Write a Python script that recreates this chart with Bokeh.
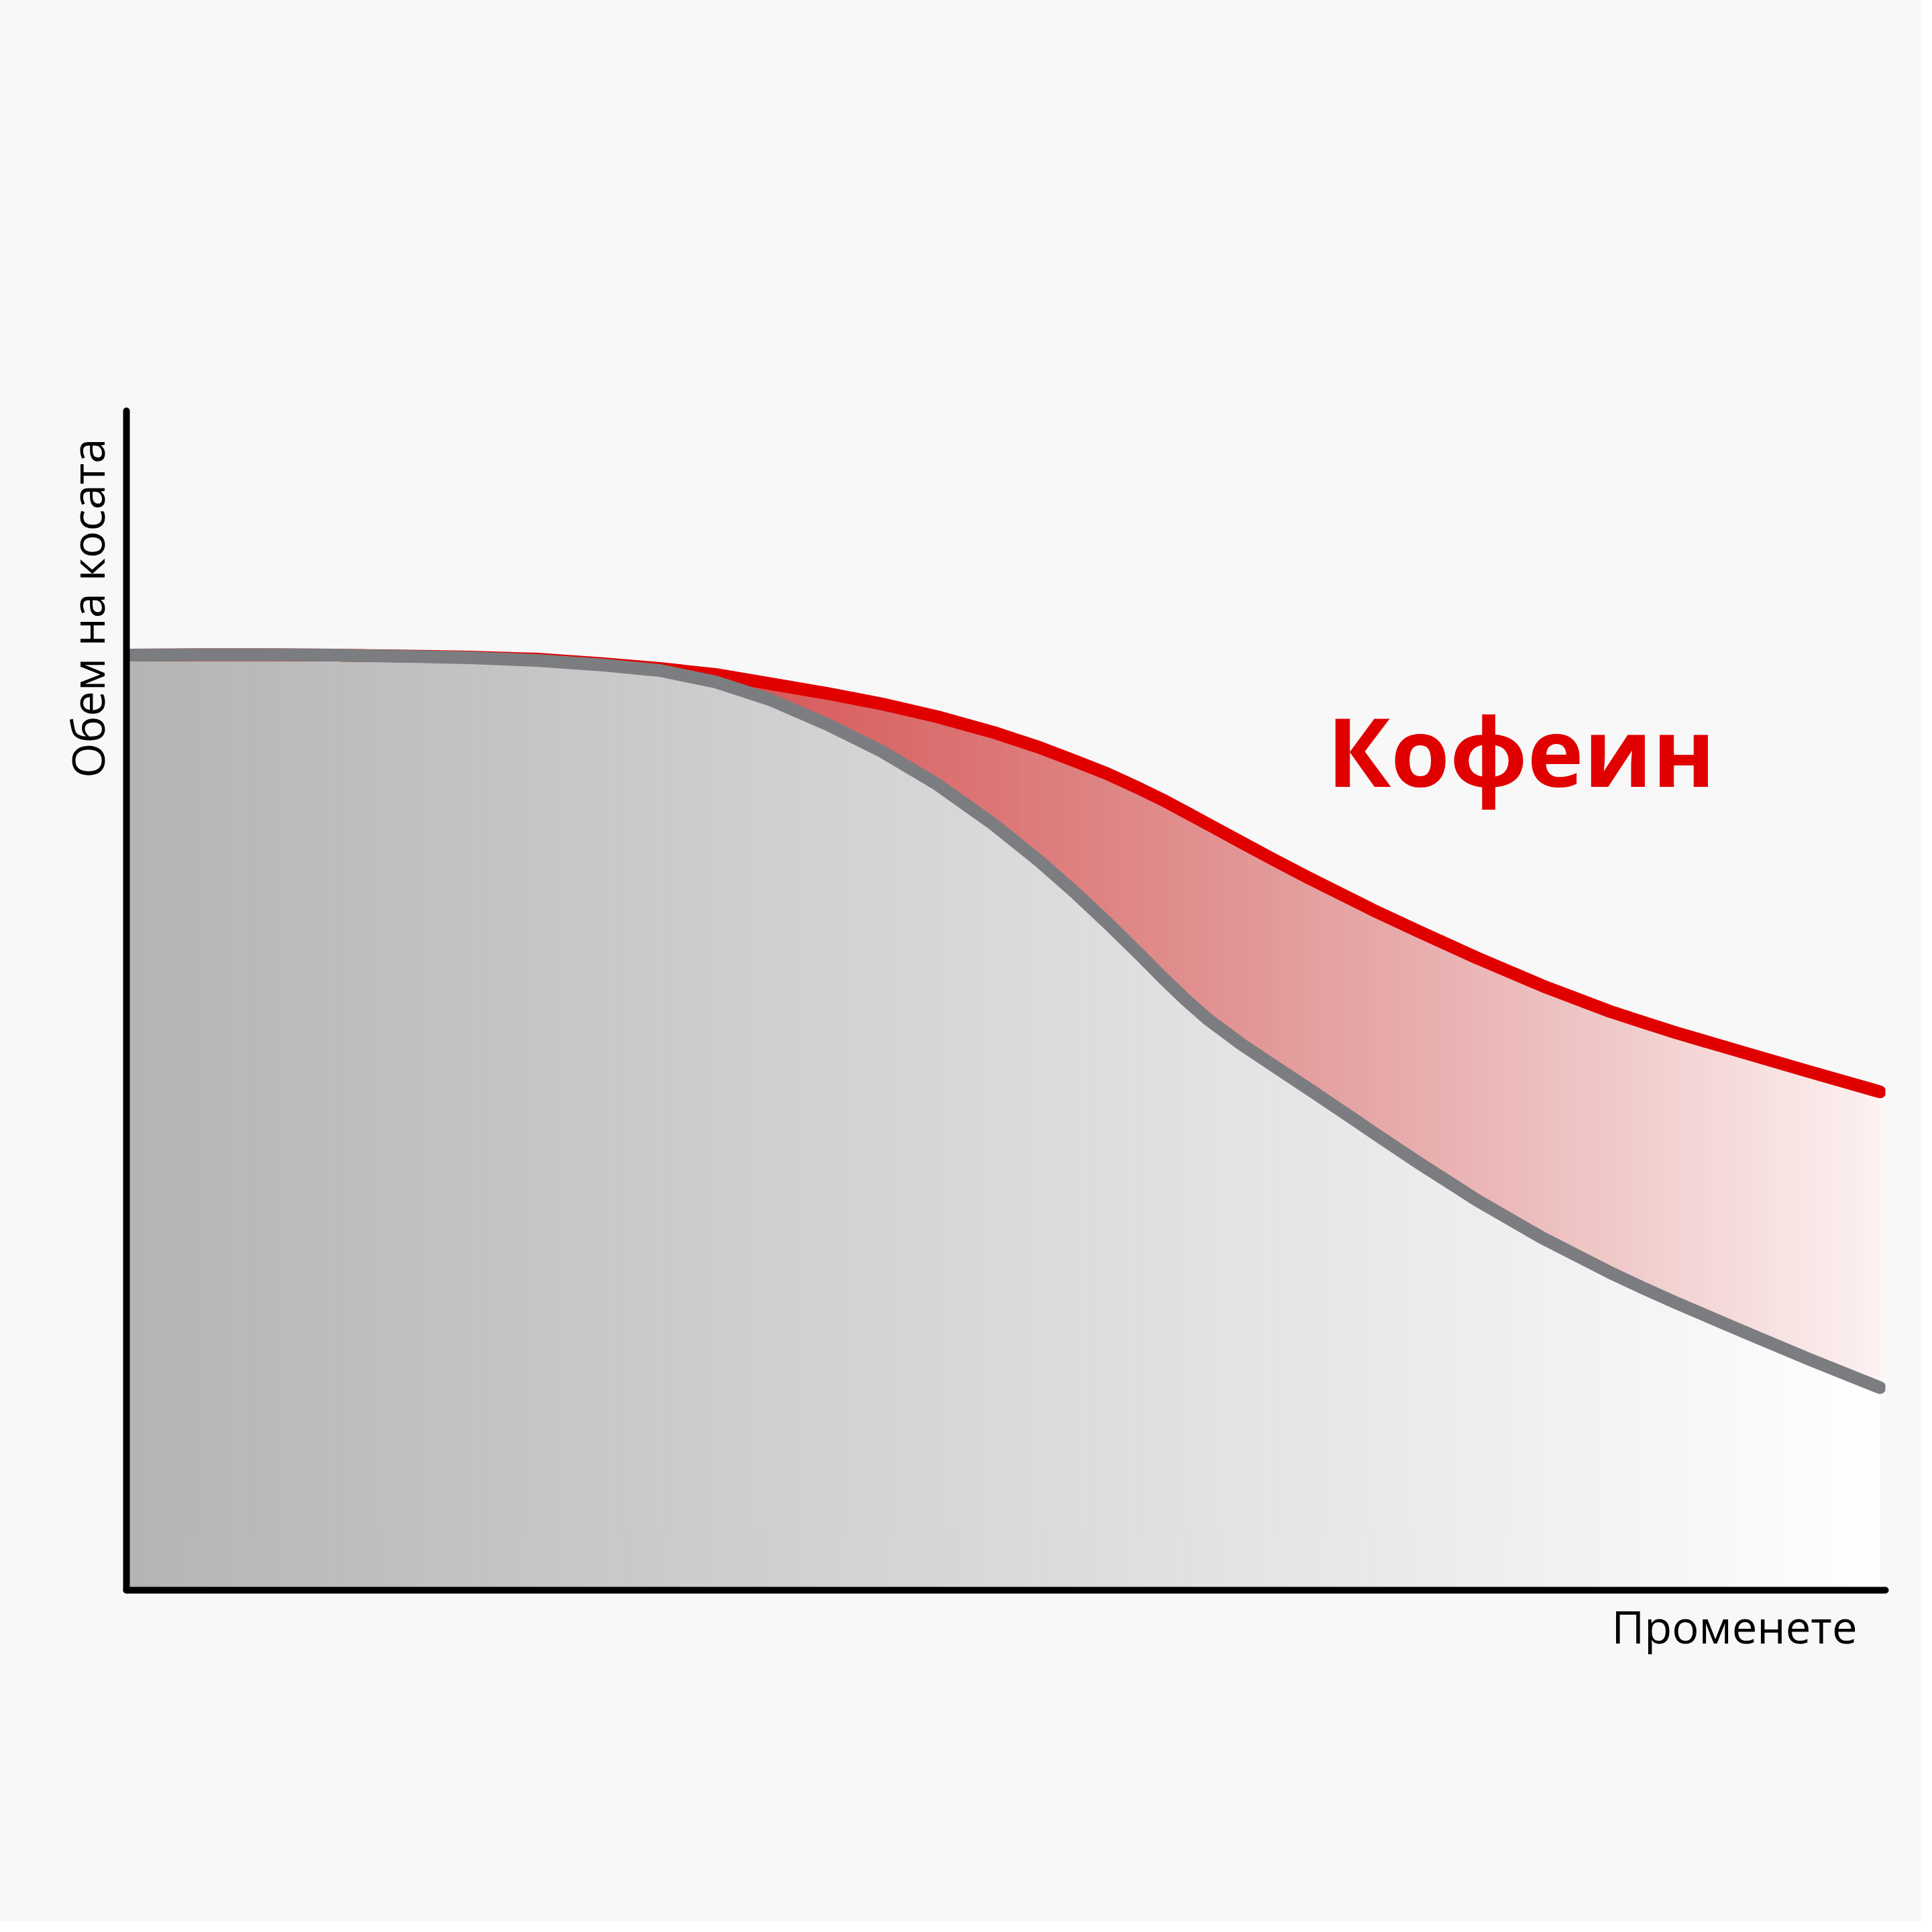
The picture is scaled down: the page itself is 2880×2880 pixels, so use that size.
import numpy as np
from bokeh.plotting import figure
from bokeh.models import Range1d, FixedTicker, Label, Title
from bokeh.embed import file_html
from bokeh.resources import INLINE

# ---- data (arbitrary units: x = change, y = hair volume) ----
x = [0.15, 4.27, 8.09, 11.90, 16.09, 19.53, 23.34, 27.15, 30.32, 33.49, 36.65, 39.82,
     42.98, 46.11, 49.28, 51.94, 53.85, 55.76, 57.67, 58.92, 60.22, 61.48, 63.39, 65.29,
     67.20, 69.11, 71.01, 73.38, 76.74, 80.51, 84.32, 86.19, 88.10, 91.88, 95.69, 99.69]
baseline = [79.29, 79.32, 79.32, 79.29, 79.18, 79.07, 78.84, 78.44, 77.99, 77.02, 75.48,
            73.44, 71.10, 68.32, 64.96, 61.77, 59.27, 56.60, 53.81, 51.93, 50.06, 48.41,
            46.30, 44.40, 42.52, 40.61, 38.68, 36.32, 33.11, 29.86, 26.96, 25.65, 24.37,
            21.96, 19.57, 17.18]
caffeine = [79.29, 79.32, 79.32, 79.29, 79.21, 79.12, 78.95, 78.56, 78.16, 77.65, 76.85,
            76.05, 75.14, 74.06, 72.75, 71.44, 70.36, 69.23, 67.92, 67.01, 65.98, 64.96,
            63.42, 61.89, 60.41, 58.99, 57.57, 55.92, 53.64, 51.25, 49.09, 48.18, 47.27,
            45.62, 43.97, 42.26]
series_label = "Кофеин"
y_title = "Обем на косата"
x_title = "Променете"

BG = "#f8f8f8"
RED = (224, 0, 0)


def gray_level(xv):
    return 180 + 0.75 * xv


def red_alpha(xv):
    return float(np.clip(0.54 - 0.008 * (xv - 38.7), 0.05, 0.62))


def hexc(r, g, b):
    return "#%02x%02x%02x" % (int(round(r)), int(round(g)), int(round(b)))


xa = np.array(x)
ga = np.array(baseline)
ra = np.array(caffeine)

gxs, gys, gcol = [], [], []
rxs, rys, rcol = [], [], []
n_sub = 12
for i in range(len(x) - 1):
    edges = np.linspace(xa[i], xa[i + 1], n_sub + 1)
    for a, b in zip(edges[:-1], edges[1:]):
        g0, g1 = np.interp([a, b], xa, ga)
        r0, r1 = np.interp([a, b], xa, ra)
        m = 0.5 * (a + b)
        gv = gray_level(m)
        gxs.append([a, b, b, a])
        gys.append([0, 0, g1, g0])
        gcol.append(hexc(gv, gv, gv))
        if max(r0 - g0, r1 - g1) > 1e-6:
            al = red_alpha(m)
            rxs.append([a, b, b, a])
            rys.append([g0, g1, r1, r0])
            rcol.append(hexc(RED[0] * al + gv * (1 - al), gv * (1 - al), gv * (1 - al)))

p = figure(frame_width=2622, frame_height=1758,
           x_range=Range1d(0, 100), y_range=Range1d(0, 100),
           output_backend="svg", toolbar_location=None,
           min_border_left=188, min_border_right=54,
           min_border_top=612, min_border_bottom=494,
           background_fill_color=BG, border_fill_color=BG,
           outline_line_color=None)

p.grid.visible = False
for ax in (p.xaxis[0], p.yaxis[0]):
    ax.ticker = FixedTicker(ticks=[])
    ax.major_tick_line_color = None
    ax.minor_tick_line_color = None
    ax.major_tick_out = 0
    ax.major_tick_in = 0
    ax.minor_tick_out = 0
    ax.minor_tick_in = 0
    ax.major_label_standoff = 0
    ax.major_label_text_font_size = "0px"
    ax.axis_line_width = 10
    ax.axis_line_color = "black"
    ax.axis_line_cap = "round"

p.patches(gxs, gys, fill_color=gcol, line_color=gcol, line_width=1.2)
p.patches(rxs, rys, fill_color=rcol, line_color=rcol, line_width=1.2)

p.line(x, caffeine, line_color="#e00000", line_width=19, line_cap="round", line_join="round")
p.line(x, baseline, line_color="#7c7d80", line_width=19, line_cap="round", line_join="round")

p.add_layout(Label(x=79.29, y=71.22, text=series_label, text_font="Open Sans",
                   text_font_style="bold", text_font_size="142px", text_color="#e00000",
                   text_align="center", text_baseline="alphabetic"))

p.add_layout(Title(text=x_title, align="right", offset=42, standoff=10,
                   text_font="Open Sans", text_font_style="normal",
                   text_font_size="67px", text_color="black"), "below")
p.add_layout(Title(text=y_title, align="right", offset=41, standoff=25,
                   text_font="Open Sans", text_font_style="normal",
                   text_font_size="67px", text_color="black"), "left")

open("out.html", "w").write(file_html(p, INLINE))
